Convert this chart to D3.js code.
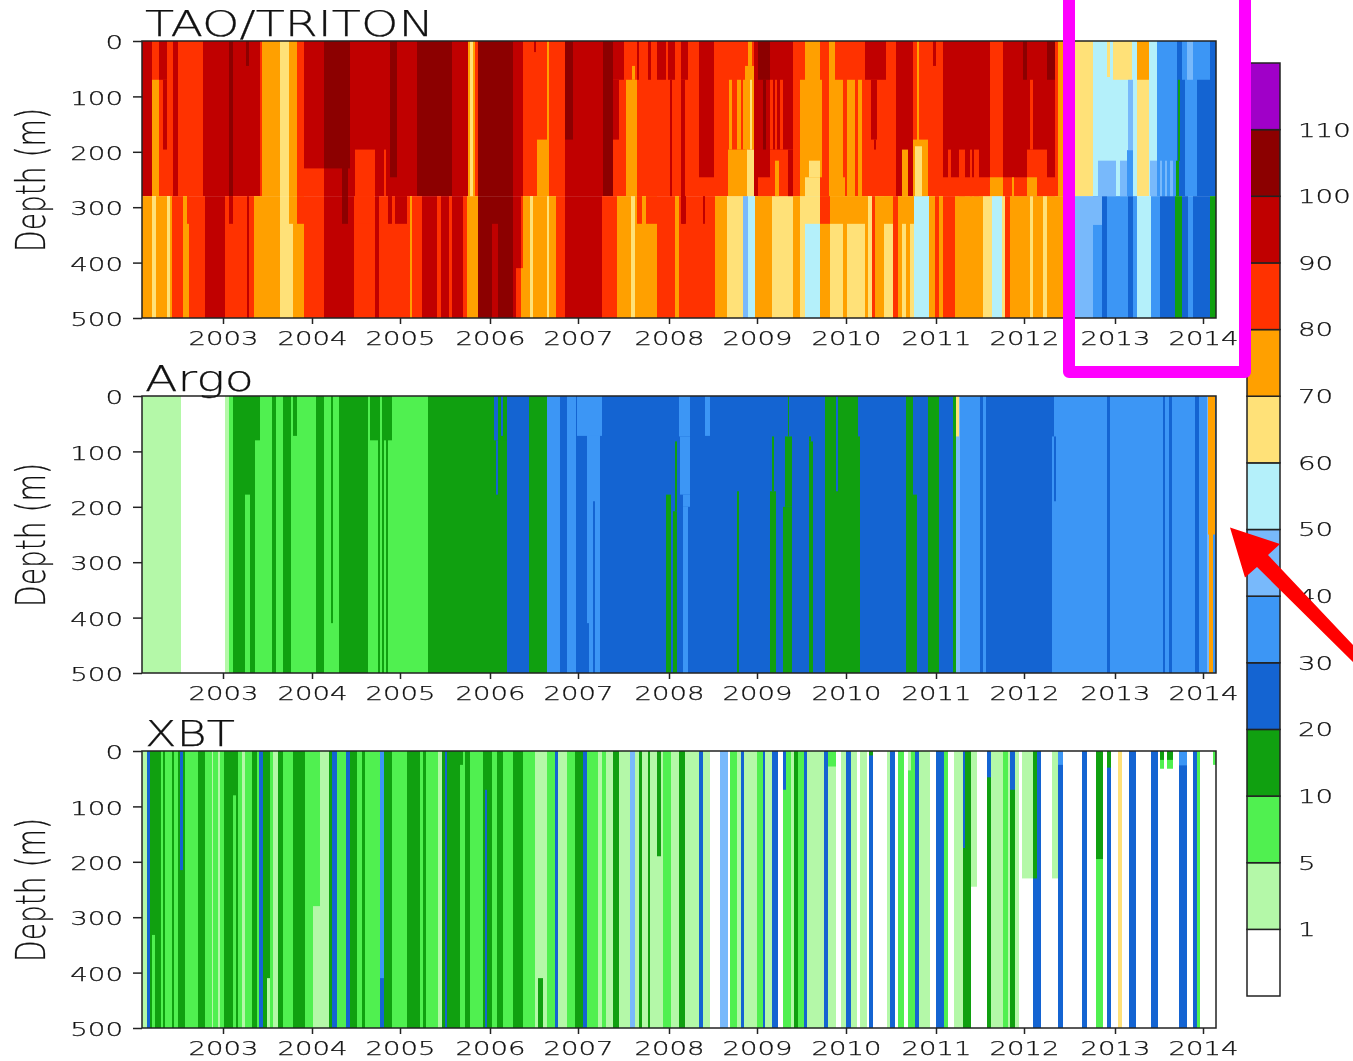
<!DOCTYPE html>
<html><head><meta charset="utf-8">
<script src="https://cdn.jsdelivr.net/npm/d3@7"></script>
<style>
html,body{margin:0;padding:0;background:#fff;overflow:hidden}
svg{display:block;filter:blur(0.45px)}
text{font-family:"DejaVu Sans ExtraLight","DejaVu Sans",sans-serif;font-weight:200;fill:#111;stroke:#111;stroke-width:0.25px}
</style></head><body>
<svg id="c" width="1353" height="1061"></svg>
<script>
// time bins across the record; year ticks sit at these bin numbers
const binCount = 1074;
const yearBins = [81,170,258,348,436,527,615,704,794,882,973,1061];
const yearLabels = ["2003","2004","2005","2006","2007","2008","2009","2010","2011","2012","2013","2014"];
const depthTicks = [0,100,200,300,400,500];
const levelLabels = ["1","5","10","20","30","40","50","60","70","80","90","100","110"];
// colour class 0..13
const classColors = ["#ffffff","#b4f8a8","#50f050","#10a010","#1464d2","#3c96f5","#78b9fb","#b4f0fa","#ffe178","#ffa000","#ff3200","#c00000","#8c0000","#a000c8"];

// runs are [endBin, colourClass]; patches are [startBin, endBin, topDepth, bottomDepth, colourClass]
const taoUpperRuns = [[10,11],[17,9],[25,10],[31,10],[36,11],[61,10],[87,11],[91,12],[118,11],[120,10],[138,9],[147,8],[155,9],[162,10],[182,11],[208,12],[248,11],[255,12],[275,11],[310,12],[326,11],[333,9],[336,10],[371,12],[381,11],[423,10],[431,11],[461,11],[471,12],[484,10],[495,10],[497,10],[506,10],[509,10],[515,10],[524,10],[539,10],[546,10],[557,10],[572,11],[585,10],[605,10],[612,10],[628,11],[651,11],[663,10],[678,9],[687,10],[693,9],[723,10],[744,10],[754,10],[771,11],[775,10],[777,9],[801,10],[848,11],[861,10],[881,11],[885,11],[905,11],[913,11],[921,10],[951,8],[995,7],[1007,8],[1015,7],[1035,5],[1043,4],[1055,5],[1074,4]];
const taoLowerRuns = [[10,9],[14,8],[25,9],[28,8],[30,9],[41,10],[47,9],[63,10],[83,11],[105,10],[107,11],[112,10],[138,9],[151,8],[162,9],[182,10],[212,11],[233,10],[237,11],[268,10],[270,9],[280,10],[295,11],[299,10],[307,11],[310,10],[321,11],[325,10],[336,9],[371,12],[379,11],[388,9],[391,8],[405,9],[407,8],[414,9],[423,10],[431,11],[460,11],[475,10],[489,9],[493,8],[515,9],[533,10],[537,9],[573,10],[585,9],[601,8],[606,6],[613,7],[630,9],[651,8],[658,9],[663,8],[678,7],[688,9],[691,8],[701,8],[705,9],[723,8],[726,9],[730,8],[733,10],[742,9],[751,8],[756,10],[760,9],[764,8],[768,9],[772,8],[787,7],[793,9],[797,10],[801,9],[813,10],[841,9],[850,8],[860,7],[863,8],[868,10],[888,9],[891,8],[901,9],[905,8],[909,9],[921,9],[936,6],[951,6],[960,5],[965,4],[986,5],[991,4],[995,5],[1009,7],[1018,5],[1033,4],[1040,3],[1046,4],[1051,5],[1068,4],[1074,3]];
const taoPatches = [
[10,17,0,70,10],[17,25,0,70,11],[21,25,70,196,11],[104,107,0,45,12],[162,182,230,280,10],[182,200,230,280,11],[206,208,230,280,11],[213,233,196,280,10],[242,244,196,280,10],[248,255,246,280,11],[328,331,0,280,8],[392,394,0,20,11],[395,405,178,280,9],[423,431,0,178,12],[405,407,0,280,9],
[471,482,0,70,11],[471,477,70,178,11],[484,495,70,280,9],[490,493,45,70,9],[495,497,0,70,11],[506,509,0,70,11],[515,524,0,70,11],[526,533,0,70,11],[528,530,70,280,11],[539,546,0,70,11],[539,543,70,330,11],[557,572,246,280,10],[587,590,70,196,9],[595,599,70,196,9],[601,606,70,196,9],[586,605,196,280,9],[603,612,45,196,9],[605,612,196,280,8],[606,610,0,45,9],[608,610,70,196,8],
[616,628,0,70,12],[621,624,70,196,12],[628,631,70,196,10],[633,635,70,196,10],[638,641,70,196,10],[628,651,196,280,10],[633,637,216,280,9],[646,651,196,280,11],[616,628,246,280,10],[658,663,70,280,9],[663,678,246,280,8],[667,678,216,246,8],[678,680,70,246,9],[690,701,70,280,9],[705,713,70,280,9],[716,720,70,280,9],[699,703,246,280,9],
[723,744,0,70,11],[729,735,70,178,11],[732,734,178,196,11],[754,771,0,178,11],[760,766,196,280,9],[771,786,178,280,9],[773,780,190,280,8],[791,794,0,45,11],[806,809,196,280,10],[817,823,196,280,10],[828,830,196,280,10],[832,837,196,280,10],[801,848,246,280,10],[848,861,246,280,9],[861,881,246,280,10],[870,872,246,280,9],[881,885,0,70,12],[881,885,246,280,10],[885,905,196,280,10],[885,895,246,280,9],[888,891,70,196,10],[905,913,0,70,12],[905,913,246,280,10],[916,921,0,280,9],
[212,232,280,330,10],[495,500,280,330,10],[504,515,280,330,10],[147,151,280,330,9],[155,162,280,330,10],[87,91,280,330,11],[200,206,280,330,12],[246,250,280,330,11],[253,265,280,330,11],[45,47,280,330,10],[350,356,330,500,11],[374,379,410,500,10],[379,381,280,410,10],[540,544,280,330,11],[561,563,280,330,11],[663,678,280,330,8],[691,701,280,330,9],[705,723,280,330,9],[742,751,280,330,9],[760,764,280,330,9],[768,772,280,330,9],[688,691,280,330,9],[678,688,280,330,10],
[965,968,0,65,8],[971,990,0,70,8],[995,1007,0,70,9],[986,991,70,197,6],[956,974,216,280,6],[978,985,216,280,6],[985,991,197,280,5],[1008,1015,216,280,6],[1018,1020,216,280,6],[1023,1025,216,280,6],[1028,1031,216,280,6],[1040,1045,0,70,5],[1045,1051,0,70,6],[1051,1055,0,70,5],[1055,1068,0,70,5],[1036,1038,70,216,3],[1034,1037,216,280,3],[951,960,280,332,6]
];

const argoRuns = [[39,1],[83,0],[87,1],[91,2],[103,3],[108,2],[113,3],[118,2],[130,2],[134,3],[141,2],[149,3],[174,2],[182,3],[189,2],[191,3],[197,2],[226,3],[236,2],[238,3],[240,2],[242,3],[244,2],[246,3],[286,2],[365,3],[387,4],[405,3],[418,5],[425,4],[434,5],[445,4],[453,5],[458,5],[811,4],[814,3],[818,6],[838,5],[841,4],[844,5],[853,4],[910,4],[965,5],[968,4],[1021,5],[1023,4],[1027,5],[1030,4],[1053,5],[1057,4],[1065,5],[1067,6],[1071,9],[1074,5]];
const argoPatches = [
[103,108,0,178,3],[113,118,0,80,3],[151,155,0,72,3],[189,191,410,500,2],[228,236,0,80,3],[240,250,0,80,3],[352,356,0,80,4],[354,356,80,178,4],[359,361,0,72,4],[361,365,0,80,3],[435,460,0,72,5],[445,447,410,500,4],[451,453,190,500,4],[460,468,0,72,4],
[458,460,0,70,5],[537,548,0,73,5],[538,548,73,178,5],[541,548,178,200,5],[541,546,200,500,5],[563,568,0,72,5],
[524,529,178,500,3],[531,535,208,500,3],[533,535,82,208,3],[595,597,172,500,3],[628,634,172,500,3],[630,632,73,172,3],[641,650,200,500,3],[643,650,73,200,3],[646,647,0,73,3],[667,671,82,500,3],[667,669,73,82,3],[683,694,0,500,3],[694,696,172,500,3],[696,716,0,500,3],[716,718,73,500,3],[764,771,0,500,3],[771,775,178,500,3],[786,797,0,500,3],
[814,817,0,73,8],[838,841,200,500,4],[910,912,0,73,4],[912,914,73,190,4],[1066,1073,0,250,9]
];

const xbtRuns = [[5,1],[8,4],[19,3],[21,2],[23,3],[30,2],[32,3],[36,2],[43,3],[56,2],[63,3],[70,2],[71,1],[76,2],[78,1],[82,2],[96,3],[100,2],[103,1],[110,2],[115,3],[117,2],[121,4],[128,3],[131,2],[136,1],[141,3],[151,2],[163,3],[178,2],[187,1],[190,3],[195,4],[204,2],[208,4],[215,3],[220,2],[223,3],[238,2],[242,5],[250,3],[265,2],[278,3],[281,2],[284,3],[296,2],[300,1],[303,3],[305,4],[318,3],[323,2],[328,3],[341,2],[343,3],[345,3],[350,3],[355,2],[361,3],[371,2],[381,3],[393,2],[396,1],[401,1],[405,1],[413,2],[416,4],[425,1],[433,2],[441,3],[445,4],[456,2],[460,1],[464,2],[471,1],[477,3],[488,1],[493,6],[497,1],[500,3],[506,1],[508,3],[515,1],[519,3],[521,1],[529,2],[537,1],[543,3],[557,1],[561,4],[568,1],[578,0],[586,6],[588,0],[595,2],[599,1],[602,4],[615,1],[621,2],[623,4],[630,1],[636,4],[641,0],[649,2],[652,1],[656,3],[662,2],[665,4],[682,1],[686,4],[694,1],[699,0],[704,1],[709,4],[715,1],[718,0],[725,1],[727,0],[731,4],[745,0],[748,1],[753,4],[756,0],[762,2],[766,0],[773,2],[777,4],[788,1],[794,0],[802,4],[806,2],[812,0],[821,1],[823,3],[829,3],[835,1],[845,0],[849,3],[861,1],[866,2],[868,1],[873,3],[877,1],[880,0],[891,1],[899,4],[910,0],[916,1],[921,4],[940,0],[945,4],[954,0],[961,2],[965,0],[969,4],[976,0],[980,8],[987,0],[994,4],[1009,0],[1016,4],[1037,0],[1045,4],[1051,0],[1055,4],[1058,2],[1071,0],[1074,2]];
const xbtPatches = [
[10,13,332,500,2],[38,41,0,215,4],[91,94,80,500,2],[125,128,410,500,1],[171,178,280,500,1],[238,242,410,500,4],[305,309,410,500,3],[343,345,70,500,4],[396,401,410,500,3],[316,321,0,25,3],[515,519,190,500,1],[641,644,0,70,4],[686,694,0,28,2],[727,731,0,8,3],[766,769,0,35,1],[821,823,175,500,3],[821,823,0,175,4],[829,835,245,500,0],[845,849,0,48,4],[845,849,48,500,3],[868,873,0,70,4],[891,895,0,230,3],[880,891,230,500,0],[910,916,230,500,0],[916,921,0,25,5],[954,961,0,195,3],[965,969,0,30,3],[1018,1022,0,32,2],[1018,1022,0,16,3],[1025,1031,0,32,2],[1025,1031,0,16,3],[1037,1045,0,26,5],[1071,1074,25,500,0]
];

const panels = [
  {title:"TAO/TRITON", titleLen:289, top:41,  bands:[[0,280,taoUpperRuns],[280,500,taoLowerRuns]], patches:taoPatches},
  {title:"Argo",       titleLen:109, top:396, bands:[[0,500,argoRuns]], patches:argoPatches},
  {title:"XBT",        titleLen:90,  top:751, bands:[[0,500,xbtRuns]], patches:xbtPatches}
];

const svg = d3.select("#c");
const width = 1074, height = 277, left = 142;
const x = d3.scaleLinear().domain([0,binCount]).range([left,left+width]);
const ink = "#222";
const DIGIT = 17.6;
const FONT = '"DejaVu Sans ExtraLight","DejaVu Sans",sans-serif';

panels.forEach(p=>{
  const y = d3.scaleLinear().domain([0,500]).range([p.top,p.top+height]);
  const g = svg.append("g");
  p.bands.forEach(([d0,d1,runs])=>{
    const starts = runs.map((r,i)=> i? runs[i-1][0] : 0);
    g.append("g").selectAll("rect").data(runs).join("rect")
      .attr("x",(r,i)=>x(starts[i])).attr("width",(r,i)=>x(r[0])-x(starts[i]))
      .attr("y",y(d0)).attr("height",y(d1)-y(d0))
      .attr("fill",r=>classColors[r[1]]);
  });
  g.append("g").selectAll("rect").data(p.patches).join("rect")
    .attr("x",d=>x(d[0])).attr("width",d=>x(d[1])-x(d[0]))
    .attr("y",d=>y(d[2])).attr("height",d=>y(d[3])-y(d[2]))
    .attr("fill",d=>classColors[d[4]]);
  g.append("rect").attr("x",left).attr("y",p.top).attr("width",width).attr("height",height)
    .attr("fill","none").attr("stroke",ink).attr("stroke-width",1.5);

  const ax = g.append("g").attr("transform",`translate(0,${p.top+height})`)
    .call(d3.axisBottom(x).tickValues(yearBins).tickFormat((d,i)=>yearLabels[i]).tickSize(6).tickPadding(7));
  ax.selectAll("text").attr("font-size",20).attr("textLength",70).attr("lengthAdjust","spacingAndGlyphs").attr("font-family",FONT).attr("fill","#111");
  const ay = g.append("g").attr("transform",`translate(${left},0)`)
    .call(d3.axisLeft(y).tickValues(depthTicks).tickSize(9).tickPadding(10));
  ay.selectAll("text").attr("font-size",20).attr("font-family",FONT).attr("lengthAdjust","spacingAndGlyphs").attr("fill","#111").attr("dy","0.38em").each(function(d){
    d3.select(this).attr("textLength",String(d).length*DIGIT);
  });
  [ax,ay].forEach(a=>{a.select(".domain").remove(); a.selectAll("line").attr("stroke",ink).attr("stroke-width",1.5);});

  g.append("text").text(p.title).attr("x",145).attr("y",p.top-5).attr("font-size",35)
    .attr("textLength",p.titleLen).attr("lengthAdjust","spacingAndGlyphs");
  g.append("text").text("Depth (m)").attr("transform",`translate(45,${p.top+139}) rotate(-90)`)
    .attr("text-anchor","middle").attr("font-size",40).attr("textLength",144).attr("lengthAdjust","spacingAndGlyphs");
});

// colour bar
const barY = d3.scaleLinear().domain([0,classColors.length]).range([996,63]);
const bar = svg.append("g");
bar.selectAll("rect").data(classColors).join("rect")
  .attr("x",1247).attr("width",33)
  .attr("y",(c,i)=>barY(i+1)).attr("height",(c,i)=>barY(i)-barY(i+1))
  .attr("fill",c=>c).attr("stroke",ink).attr("stroke-width",1.5);
const barAxis = svg.append("g").attr("transform","translate(1298,0)")
  .call(d3.axisRight(barY).tickValues(levelLabels.map((l,i)=>i+1)).tickFormat((d,i)=>levelLabels[i]).tickSize(0).tickPadding(0));
barAxis.select(".domain").remove();
barAxis.selectAll("text").attr("font-size",20).attr("font-family",FONT).attr("fill","#111").attr("lengthAdjust","spacingAndGlyphs")
  .each(function(d,i){d3.select(this).attr("textLength",levelLabels[i].length*DIGIT);});

// hand-drawn annotations that sit over the figure
svg.append("rect").attr("x",1069).attr("y",-40).attr("width",176).attr("height",412)
  .attr("fill","none").attr("stroke","#ff00ff").attr("stroke-width",12).attr("stroke-linejoin","round");
svg.append("path").attr("d","M1230,527.5 L1280,544 L1268,555 L1353,645 L1353,662 L1257,567 L1245,577.5 Z").attr("fill","#ff0000");
</script>
</body></html>
